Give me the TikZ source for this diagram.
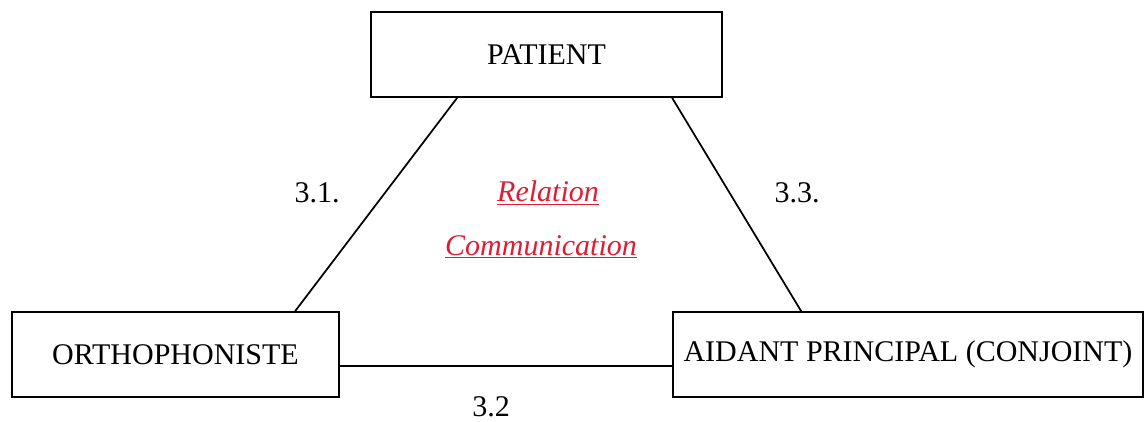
\documentclass[tikz,border=0pt]{standalone}
\usepackage{fontspec}
\setmainfont{Liberation Serif}
\usetikzlibrary{calc}
\definecolor{relred}{RGB}{222,28,52}
\begin{document}
\begin{tikzpicture}[x=0.75pt,y=-0.75pt,
  box/.style={draw,line width=1.3pt,inner sep=0pt,font=\fontsize{22.5}{26}\selectfont},
  lbl/.style={inner sep=0pt,font=\fontsize{22.5}{26}\selectfont},
  rel/.style={inner sep=0pt,text=relred,font=\fontsize{22.5}{26}\selectfont\itshape},
  conn/.style={line width=1.3pt}]
\useasboundingbox (0,0) rectangle (1145,421);
\node[box,minimum width=351*0.75pt,minimum height=85*0.75pt] (pat) at (546.5,54.5) {PATIENT};
\node[box,minimum width=327*0.75pt,minimum height=85*0.75pt] (ortho) at (175.5,354.5) {ORTHOPHONISTE};
\node[box,minimum width=470*0.75pt,minimum height=85*0.75pt] (aid) at (908,354.5) {AIDANT PRINCIPAL (CONJOINT)};
\draw[conn] ($(pat.south west)+(87,0)$) -- ($(ortho.north west)+(284,0)$);
\draw[conn] ($(pat.south west)+(302,0)$) -- ($(aid.north west)+(129,0)$);
\coordinate (h) at ($(ortho.east)+(0,11.5)$);
\draw[conn] (h) -- (h -| aid.west);
\node[lbl] (l31) at (317,193) {3.1.};
\node[lbl] (l33) at (797,193) {3.3.};
\node[lbl] (l32) at (491,407) {3.2};
\node[rel] (relation) at (548,193) {\underline{Relation}};
\node[rel] (comm) at (541,247) {\underline{Communication}};
\end{tikzpicture}
\end{document}
